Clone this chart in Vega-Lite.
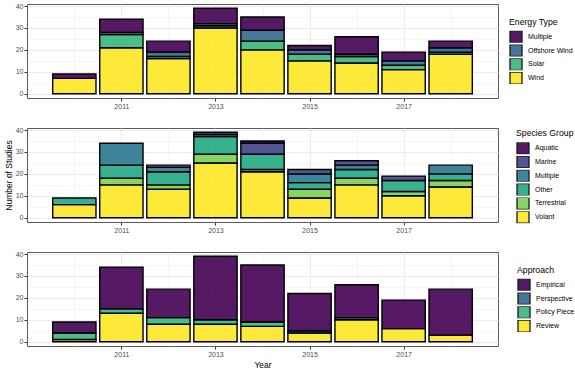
{
  "$schema": "https://vega.github.io/schema/vega-lite/v6.json",
  "padding": {"left": 3, "top": 1, "right": 0, "bottom": 0},
  "background": "white",
  "datasets": {
    "energy": [
      {"year": 2010, "type": "Wind", "n": 7}, {"year": 2010, "type": "Multiple", "n": 2},
      {"year": 2011, "type": "Wind", "n": 21}, {"year": 2011, "type": "Solar", "n": 6}, {"year": 2011, "type": "Offshore Wind", "n": 1}, {"year": 2011, "type": "Multiple", "n": 6},
      {"year": 2012, "type": "Wind", "n": 16}, {"year": 2012, "type": "Solar", "n": 1}, {"year": 2012, "type": "Offshore Wind", "n": 2}, {"year": 2012, "type": "Multiple", "n": 5},
      {"year": 2013, "type": "Wind", "n": 30}, {"year": 2013, "type": "Solar", "n": 1}, {"year": 2013, "type": "Offshore Wind", "n": 1}, {"year": 2013, "type": "Multiple", "n": 7},
      {"year": 2014, "type": "Wind", "n": 20}, {"year": 2014, "type": "Solar", "n": 4}, {"year": 2014, "type": "Offshore Wind", "n": 5}, {"year": 2014, "type": "Multiple", "n": 6},
      {"year": 2015, "type": "Wind", "n": 15}, {"year": 2015, "type": "Solar", "n": 3}, {"year": 2015, "type": "Offshore Wind", "n": 2}, {"year": 2015, "type": "Multiple", "n": 2},
      {"year": 2016, "type": "Wind", "n": 14}, {"year": 2016, "type": "Solar", "n": 3}, {"year": 2016, "type": "Offshore Wind", "n": 1}, {"year": 2016, "type": "Multiple", "n": 8},
      {"year": 2017, "type": "Wind", "n": 11}, {"year": 2017, "type": "Solar", "n": 2}, {"year": 2017, "type": "Offshore Wind", "n": 2}, {"year": 2017, "type": "Multiple", "n": 4},
      {"year": 2018, "type": "Wind", "n": 18}, {"year": 2018, "type": "Solar", "n": 1}, {"year": 2018, "type": "Offshore Wind", "n": 2}, {"year": 2018, "type": "Multiple", "n": 3}
    ],
    "species": [
      {"year": 2010, "group": "Volant", "n": 6}, {"year": 2010, "group": "Other", "n": 3},
      {"year": 2011, "group": "Volant", "n": 15}, {"year": 2011, "group": "Terrestrial", "n": 3}, {"year": 2011, "group": "Other", "n": 6}, {"year": 2011, "group": "Multiple", "n": 10},
      {"year": 2012, "group": "Volant", "n": 13}, {"year": 2012, "group": "Terrestrial", "n": 2}, {"year": 2012, "group": "Other", "n": 6}, {"year": 2012, "group": "Multiple", "n": 2}, {"year": 2012, "group": "Marine", "n": 1},
      {"year": 2013, "group": "Volant", "n": 25}, {"year": 2013, "group": "Terrestrial", "n": 4}, {"year": 2013, "group": "Other", "n": 8}, {"year": 2013, "group": "Multiple", "n": 1}, {"year": 2013, "group": "Marine", "n": 1},
      {"year": 2014, "group": "Volant", "n": 21}, {"year": 2014, "group": "Terrestrial", "n": 1}, {"year": 2014, "group": "Other", "n": 7}, {"year": 2014, "group": "Marine", "n": 5}, {"year": 2014, "group": "Aquatic", "n": 1},
      {"year": 2015, "group": "Volant", "n": 9}, {"year": 2015, "group": "Terrestrial", "n": 4}, {"year": 2015, "group": "Other", "n": 3}, {"year": 2015, "group": "Multiple", "n": 4}, {"year": 2015, "group": "Marine", "n": 2},
      {"year": 2016, "group": "Volant", "n": 15}, {"year": 2016, "group": "Terrestrial", "n": 3}, {"year": 2016, "group": "Other", "n": 4}, {"year": 2016, "group": "Multiple", "n": 2}, {"year": 2016, "group": "Marine", "n": 2},
      {"year": 2017, "group": "Volant", "n": 10}, {"year": 2017, "group": "Terrestrial", "n": 2}, {"year": 2017, "group": "Other", "n": 5}, {"year": 2017, "group": "Marine", "n": 2},
      {"year": 2018, "group": "Volant", "n": 14}, {"year": 2018, "group": "Terrestrial", "n": 3}, {"year": 2018, "group": "Other", "n": 3}, {"year": 2018, "group": "Multiple", "n": 4}
    ],
    "approach": [
      {"year": 2010, "approach": "Review", "n": 1}, {"year": 2010, "approach": "Policy Piece", "n": 3}, {"year": 2010, "approach": "Empirical", "n": 5},
      {"year": 2011, "approach": "Review", "n": 13}, {"year": 2011, "approach": "Policy Piece", "n": 2}, {"year": 2011, "approach": "Empirical", "n": 19},
      {"year": 2012, "approach": "Review", "n": 8}, {"year": 2012, "approach": "Policy Piece", "n": 3}, {"year": 2012, "approach": "Empirical", "n": 13},
      {"year": 2013, "approach": "Review", "n": 8}, {"year": 2013, "approach": "Policy Piece", "n": 2}, {"year": 2013, "approach": "Empirical", "n": 29},
      {"year": 2014, "approach": "Review", "n": 7}, {"year": 2014, "approach": "Policy Piece", "n": 2}, {"year": 2014, "approach": "Empirical", "n": 26},
      {"year": 2015, "approach": "Review", "n": 4}, {"year": 2015, "approach": "Perspective", "n": 1}, {"year": 2015, "approach": "Empirical", "n": 17},
      {"year": 2016, "approach": "Review", "n": 10}, {"year": 2016, "approach": "Perspective", "n": 1}, {"year": 2016, "approach": "Empirical", "n": 15},
      {"year": 2017, "approach": "Review", "n": 6}, {"year": 2017, "approach": "Empirical", "n": 13},
      {"year": 2018, "approach": "Review", "n": 3}, {"year": 2018, "approach": "Empirical", "n": 21}
    ]
  },
  "config": {
    "font": "Liberation Sans",
    "view": {"stroke": "#5a5a5a", "strokeWidth": 1},
    "axis": {
      "domain": false,
      "tickSize": 3,
      "tickColor": "#333333",
      "labelPadding": 1,
      "labelFontSize": 7,
      "labelColor": "#4D4D4D",
      "gridColor": "#EBEBEB",
      "titleFontSize": 8.5,
      "titleFontWeight": "normal",
      "titleColor": "#000000"
    },
    "legend": {
      "orient": "none",
      "titleFontSize": 8.7,
      "titleFontWeight": "normal",
      "titleColor": "#000000",
      "titlePadding": 4.5,
      "labelFontSize": 7,
      "labelColor": "#000000",
      "labelOffset": 5,
      "symbolType": "square",
      "symbolSize": 144,
      "symbolStrokeColor": "#000000",
      "symbolStrokeWidth": 1.3,
      "symbolOpacity": 0.9,
      "clipHeight": 12,
      "rowPadding": 1.8
    }
  },
  "bounds": "flush",
  "spacing": 30,
  "resolve": {"scale": {"color": "independent"}, "legend": {"color": "independent"}},
  "vconcat": [
    {
      "width": 471, "height": 94,
      "data": {"name": "energy"},
      "mark": {"type": "bar", "orient": "vertical", "width": 43.3, "stroke": "#000000", "strokeWidth": 1.4, "fillOpacity": 0.9},
      "encoding": {
        "x": {"field": "year", "type": "quantitative", "scale": {"domain": [2009.1, 2018.9], "nice": false, "zero": false},
          "axis": {"title": null, "values": [2010, 2011, 2012, 2013, 2014, 2015, 2016, 2017, 2018], "format": "d",
            "labelExpr": "datum.value % 2 == 1 ? datum.label : ''",
            "tickOpacity": {"condition": {"test": "datum.value % 2 == 1", "value": 1}, "value": 0},
            "gridWidth": {"condition": {"test": "datum.value % 2 == 1", "value": 1}, "value": 0.5}}},
        "y": {"field": "n", "type": "quantitative", "stack": "zero", "scale": {"domain": [-1.95, 40.95], "nice": false, "zero": false},
          "axis": {"title": null, "values": [0, 5, 10, 15, 20, 25, 30, 35, 40],
            "labelExpr": "datum.value % 10 == 0 ? datum.label : ''",
            "tickOpacity": {"condition": {"test": "datum.value % 10 == 0", "value": 1}, "value": 0},
            "gridWidth": {"condition": {"test": "datum.value % 10 == 0", "value": 1}, "value": 0.5}}},
        "color": {"field": "type", "type": "nominal",
          "scale": {"domain": ["Multiple", "Offshore Wind", "Solar", "Wind"], "range": ["#440154", "#31688E", "#35B779", "#FDE725"]},
          "legend": {"title": "Energy Type", "legendX": 482, "legendY": 13.5}},
        "order": {"field": "type", "sort": "descending"}
      }
    },
    {
      "width": 471, "height": 94,
      "data": {"name": "species"},
      "mark": {"type": "bar", "orient": "vertical", "width": 43.3, "stroke": "#000000", "strokeWidth": 1.4, "fillOpacity": 0.9},
      "encoding": {
        "x": {"field": "year", "type": "quantitative", "scale": {"domain": [2009.1, 2018.9], "nice": false, "zero": false},
          "axis": {"title": null, "values": [2010, 2011, 2012, 2013, 2014, 2015, 2016, 2017, 2018], "format": "d",
            "labelExpr": "datum.value % 2 == 1 ? datum.label : ''",
            "tickOpacity": {"condition": {"test": "datum.value % 2 == 1", "value": 1}, "value": 0},
            "gridWidth": {"condition": {"test": "datum.value % 2 == 1", "value": 1}, "value": 0.5}}},
        "y": {"field": "n", "type": "quantitative", "stack": "zero", "scale": {"domain": [-1.95, 40.95], "nice": false, "zero": false},
          "axis": {"title": "Number of Studies", "titlePadding": 2, "values": [0, 5, 10, 15, 20, 25, 30, 35, 40],
            "labelExpr": "datum.value % 10 == 0 ? datum.label : ''",
            "tickOpacity": {"condition": {"test": "datum.value % 10 == 0", "value": 1}, "value": 0},
            "gridWidth": {"condition": {"test": "datum.value % 10 == 0", "value": 1}, "value": 0.5}}},
        "color": {"field": "group", "type": "nominal",
          "scale": {"domain": ["Aquatic", "Marine", "Multiple", "Other", "Terrestrial", "Volant"], "range": ["#440154", "#414487", "#2A788E", "#22A884", "#7AD151", "#FDE725"]},
          "legend": {"title": "Species Group", "legendX": 489, "legendY": 1}},
        "order": {"field": "group", "sort": "descending"}
      }
    },
    {
      "width": 471, "height": 94,
      "data": {"name": "approach"},
      "mark": {"type": "bar", "orient": "vertical", "width": 43.3, "stroke": "#000000", "strokeWidth": 1.4, "fillOpacity": 0.9},
      "encoding": {
        "x": {"field": "year", "type": "quantitative", "scale": {"domain": [2009.1, 2018.9], "nice": false, "zero": false},
          "axis": {"title": "Year", "titlePadding": 3, "values": [2010, 2011, 2012, 2013, 2014, 2015, 2016, 2017, 2018], "format": "d",
            "labelExpr": "datum.value % 2 == 1 ? datum.label : ''",
            "tickOpacity": {"condition": {"test": "datum.value % 2 == 1", "value": 1}, "value": 0},
            "gridWidth": {"condition": {"test": "datum.value % 2 == 1", "value": 1}, "value": 0.5}}},
        "y": {"field": "n", "type": "quantitative", "stack": "zero", "scale": {"domain": [-1.95, 40.95], "nice": false, "zero": false},
          "axis": {"title": null, "values": [0, 5, 10, 15, 20, 25, 30, 35, 40],
            "labelExpr": "datum.value % 10 == 0 ? datum.label : ''",
            "tickOpacity": {"condition": {"test": "datum.value % 10 == 0", "value": 1}, "value": 0},
            "gridWidth": {"condition": {"test": "datum.value % 10 == 0", "value": 1}, "value": 0.5}}},
        "color": {"field": "approach", "type": "nominal",
          "scale": {"domain": ["Empirical", "Perspective", "Policy Piece", "Review"], "range": ["#440154", "#31688E", "#35B779", "#FDE725"]},
          "legend": {"title": "Approach", "legendX": 490, "legendY": 13.5}},
        "order": {"field": "approach", "sort": "descending"}
      }
    }
  ]
}
